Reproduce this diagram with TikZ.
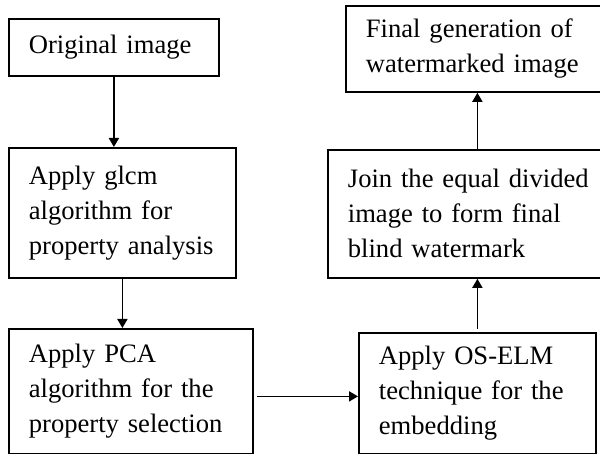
\documentclass[tikz,border=0pt]{standalone}
\usepackage{fontspec}
\setmainfont{Liberation Serif}
\usepackage{tikz}
\usetikzlibrary{arrows.meta}
\newcommand\boxfont{\fontsize{13.3}{17.5}\selectfont}
\tikzstyle{stage}=[draw,line width=.9pt,anchor=north west,align=left,inner xsep=10pt,inner ysep=0pt,font=\boxfont]
\tikzstyle{flow}=[line width=.9pt,-{Triangle[length=4.5pt,width=5pt]}]
\begin{document}
\begin{tikzpicture}[x=.5pt,y=-.5pt]
	\path[use as bounding box,clip] (0,0) rectangle (600,454);
	\node[stage,text width=85pt,minimum height=28.5pt]   (orig)  at (8,18)    {Original image};
	\node[stage,text width=93.5pt,minimum height=65pt]   (glcm)  at (8,147)   {Apply glcm\\ algorithm for\\ property analysis};
	\node[stage,text width=102pt,minimum height=62.5pt]  (pca)   at (8,328)   {Apply PCA\\ algorithm for the\\ property selection};
	\node[stage,text width=98.5pt,minimum height=60.5pt] (oselm) at (358,332) {Apply OS-ELM\\ technique for the\\ embedding};
	\node[stage,text width=121.5pt,minimum height=64pt]  (join)  at (327,149) {Join the equal divided\\ image to form final\\ blind watermark};
	\node[stage,text width=112.5pt,minimum height=43pt]  (final) at (345,5)   {Final generation of\\ watermarked image};
	\draw[flow] (orig.south) -- (orig.south |- glcm.north);
	\draw[flow] (glcm.south) -- (glcm.south |- pca.north);
	\draw[flow] ([shift={(3,5)}]pca.east) -- ([shift={(0,5)}]pca.east -| oselm.west);
	\draw[flow] ([shift={(0,-3)}]oselm.north) -- (oselm.north |- join.south);
	\draw[flow] (oselm.north |- join.north) -- (oselm.north |- final.south);
\end{tikzpicture}
\end{document}
